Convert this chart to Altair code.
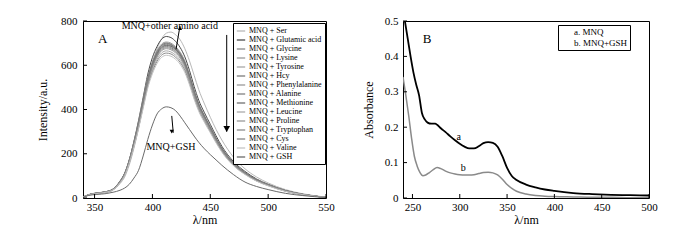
import altair as alt
import pandas as pd

# ---------------- Panel A: fluorescence spectra ----------------
wl_a = [340, 345, 352, 360, 366, 372, 376, 380, 384, 388, 392, 396, 400, 404, 408,
        412, 416, 420, 424, 428, 432, 436, 440, 445, 450, 455, 460, 470, 480, 490,
        500, 515, 530, 550]

names_a = ["MNQ + Ser", "MNQ + Glutamic acid", "MNQ + Glycine", "MNQ + Lysine",
           "MNQ + Tyrosine", "MNQ + Hcy", "MNQ + Phenylalanine", "MNQ + Alanine",
           "MNQ + Methionine", "MNQ + Leucine", "MNQ + Proline", "MNQ + Tryptophan",
           "MNQ + Cys", "MNQ + Valine", "MNQ + GSH"]

colors_a = ["#b8b8b8", "#4a4a4a", "#8a8a8a", "#9a9a9a", "#a8a8a8", "#7a7a7a", "#999999",
            "#808080", "#707070", "#aaaaaa", "#999999", "#8c8c8c", "#858585", "#c4c4c4",
            "#6a6a6a"]

ser = [4, 14, 20, 26, 36, 65, 95, 150, 225, 315, 420, 525, 610, 675, 720, 745, 750, 738, 715, 675, 620, 555, 490, 425, 365, 310, 262, 185, 132, 95, 68, 38, 19, 4]
glutamic = [4, 15, 22, 28, 40, 74, 110, 172, 255, 350, 455, 560, 635, 685, 718, 730, 725, 708, 680, 638, 577, 505, 442, 385, 333, 281, 234, 165, 120, 86, 62, 34, 17, 3]
glycine = [4, 15, 22, 28, 40, 75, 110, 170, 250, 340, 440, 540, 610, 660, 690, 700, 695, 680, 655, 615, 555, 485, 425, 370, 320, 270, 225, 158, 115, 82, 60, 33, 16, 3]
lysine = [4, 16, 23, 29, 41, 77, 113, 174, 255, 346, 446, 546, 616, 666, 696, 705, 700, 684, 659, 619, 559, 489, 428, 373, 322, 272, 227, 159, 116, 83, 60, 33, 16, 3]
tyrosine = [4, 15, 22, 28, 40, 74, 108, 167, 246, 335, 434, 532, 601, 651, 680, 690, 685, 670, 645, 606, 547, 478, 419, 365, 315, 266, 222, 156, 113, 81, 59, 32, 16, 3]
hcy = [4, 15, 22, 28, 40, 75, 109, 169, 248, 338, 437, 536, 606, 655, 685, 695, 690, 675, 650, 611, 551, 482, 422, 368, 318, 268, 224, 157, 114, 82, 60, 33, 16, 3]
phenylalanine = [4, 14, 21, 27, 39, 73, 107, 165, 242, 330, 427, 524, 593, 641, 670, 680, 675, 661, 637, 598, 540, 472, 414, 360, 311, 263, 219, 154, 112, 80, 58, 32, 16, 3]
alanine = [4, 15, 23, 29, 41, 76, 112, 172, 252, 342, 442, 541, 611, 661, 690, 700, 694, 678, 652, 612, 552, 482, 422, 368, 318, 268, 223, 157, 114, 82, 60, 33, 16, 3]
methionine = [4, 15, 22, 28, 40, 74, 109, 168, 247, 336, 435, 533, 602, 651, 680, 690, 686, 671, 647, 608, 549, 480, 421, 367, 317, 268, 223, 157, 114, 82, 60, 33, 16, 3]
leucine = [4, 14, 21, 27, 38, 71, 104, 161, 237, 323, 418, 513, 580, 627, 656, 665, 660, 646, 622, 584, 527, 461, 404, 352, 304, 257, 214, 150, 109, 78, 57, 31, 15, 3]
proline = [4, 14, 21, 27, 39, 72, 106, 164, 241, 328, 424, 520, 589, 637, 666, 675, 670, 656, 632, 593, 536, 468, 410, 357, 309, 261, 217, 153, 111, 79, 58, 32, 15, 3]
tryptophan = [4, 14, 21, 26, 37, 70, 103, 159, 234, 318, 412, 505, 571, 618, 646, 655, 651, 637, 613, 576, 520, 454, 398, 346, 300, 253, 211, 148, 108, 77, 56, 31, 15, 3]
cys = [4, 15, 22, 28, 39, 73, 108, 166, 244, 333, 430, 528, 597, 646, 675, 685, 680, 665, 641, 602, 543, 475, 416, 362, 313, 265, 220, 155, 113, 80, 59, 32, 16, 3]
valine = [4, 14, 20, 26, 37, 69, 101, 157, 230, 313, 405, 497, 562, 608, 636, 645, 641, 627, 604, 567, 512, 447, 392, 341, 295, 249, 207, 146, 106, 76, 55, 30, 15, 3]
gsh = [3, 12, 16, 20, 26, 35, 45, 62, 90, 125, 190, 265, 330, 380, 403, 412, 408, 395, 370, 340, 310, 280, 252, 222, 196, 172, 148, 106, 72, 52, 38, 21, 11, 2]

series_a = [ser, glutamic, glycine, lysine, tyrosine, hcy, phenylalanine, alanine,
            methionine, leucine, proline, tryptophan, cys, valine, gsh]

ticks_ax = [350, 400, 450, 500, 550]
ticks_ay = [0, 200, 400, 600, 800]

# ---------------- Panel B: absorbance ----------------
wl_b_a = [242, 245, 248, 251, 254, 257, 260, 263, 266, 270, 274, 276, 280, 285, 290, 295,
          300, 305, 310, 315, 320, 325, 330, 335, 340, 345, 350, 355, 360, 370, 380, 390,
          400, 420, 440, 460, 480, 500]
abs_mnq = [0.50, 0.45, 0.40, 0.355, 0.32, 0.29, 0.24, 0.222, 0.213, 0.21, 0.21, 0.207,
           0.197, 0.186, 0.174, 0.163, 0.153, 0.145, 0.140, 0.140, 0.146, 0.155, 0.158,
           0.156, 0.145, 0.118, 0.085, 0.062, 0.051, 0.038, 0.030, 0.024, 0.020, 0.014,
           0.011, 0.009, 0.008, 0.007]
wl_b_b = [240, 243, 246, 249, 252, 255, 258, 261, 264, 268, 272, 276, 280, 285, 290, 295,
          300, 305, 310, 315, 320, 325, 330, 335, 340, 345, 350, 355, 360, 370, 380, 390,
          400, 420, 440, 460, 480, 500]
abs_gsh = [0.342, 0.29, 0.233, 0.17, 0.118, 0.09, 0.072, 0.063, 0.065, 0.072, 0.08, 0.086,
           0.083, 0.076, 0.071, 0.068, 0.066, 0.065, 0.065, 0.066, 0.069, 0.072, 0.073,
           0.071, 0.065, 0.053, 0.038, 0.027, 0.019, 0.011, 0.007, 0.005, 0.004, 0.003,
           0.002, 0.002, 0.001, 0.001]
names_b = ["a. MNQ", "b. MNQ+GSH"]
colors_b = ["#000000", "#8a8a8a"]
ticks_bx = [250, 300, 350, 400, 450, 500]
ticks_by = [0, 0.1, 0.2, 0.3, 0.4, 0.5]

FONT = "Liberation Serif"
W_A, W_B, H = 243, 246, 177
TICK = 4

# ---------- build tables ----------
rows = []
for nm, vals in zip(names_a, series_a):
    for w, v in zip(wl_a, vals):
        rows.append({"wl": w, "val": v, "name": nm})
dfA = pd.DataFrame(rows)

rowsB = [{"wl": w, "val": v, "name": names_b[0]} for w, v in zip(wl_b_a, abs_mnq)]
rowsB += [{"wl": w, "val": v, "name": names_b[1]} for w, v in zip(wl_b_b, abs_gsh)]
dfB = pd.DataFrame(rowsB)

def axis(title, values, fmt=None, pad=6, tpad=6):
    kw = dict(title=title, values=values, ticks=False, tickSize=0, domain=False,
              grid=False, labelFont=FONT, labelFontSize=11, labelColor="black",
              titleFont=FONT, titleFontSize=12, titleFontWeight="normal",
              titleColor="black", labelPadding=pad, titlePadding=tpad,
              labelOverlap=False, labelFlush=False)
    if fmt:
        kw["format"] = fmt
    return alt.Axis(**kw)

axAx = axis("λ/nm", ticks_ax, pad=3, tpad=2)
axAy = axis("Intensity/a.u.", ticks_ay, pad=6, tpad=11)
axBx = axis("λ/nm", ticks_bx, pad=3, tpad=2)
axBy = axis("Absorbance", ticks_by, fmt="~g", pad=5, tpad=9)

# ---------- panel A ----------
xA = alt.Scale(domain=[340, 550], nice=False, zero=False)
yA = alt.Scale(domain=[0, 800], nice=False)

linesA = alt.Chart(dfA).mark_line(strokeWidth=1, interpolate="monotone", clip=True).encode(
    x=alt.X("wl:Q", scale=xA, axis=axAx),
    y=alt.Y("val:Q", scale=yA, axis=axAy),
    color=alt.Color("name:N", sort=names_a,
                    scale=alt.Scale(domain=names_a, range=colors_a),
                    legend=alt.Legend(orient="none", legendX=150, legendY=2, title=None,
                                      symbolType="stroke", symbolSize=70,
                                      symbolStrokeWidth=1.3, labelFont=FONT,
                                      labelFontSize=8, labelColor="black",
                                      labelLimit=200, rowPadding=-0.5, padding=3,
                                      strokeColor="black", fillColor="white",
                                      labelOffset=3)),
)

tickxA = alt.Chart(pd.DataFrame({"t": ticks_ax})).mark_rule(color="black").encode(
    x=alt.X("t:Q", scale=xA, axis=axAx), y=alt.value(H), y2=alt.value(H - TICK))
tickyA = alt.Chart(pd.DataFrame({"t": ticks_ay})).mark_rule(color="black").encode(
    y=alt.Y("t:Q", scale=yA, axis=axAy), x=alt.value(0), x2=alt.value(TICK))

textA = pd.DataFrame({
    "wl": [357, 415, 416],
    "val": [717, 779, 232],
    "label": ["A", "MNQ+other amino acid", "MNQ+GSH"],
    "size": [13, 10, 10],
})
labelsA = alt.Chart(textA).mark_text(font=FONT, color="black").encode(
    x=alt.X("wl:Q", scale=xA, axis=axAx), y=alt.Y("val:Q", scale=yA, axis=axAy),
    text="label:N", size=alt.Size("size:Q", scale=None, legend=None))

arrowsA = pd.DataFrame({
    "x1": [420.4, 416.7, 464.2],
    "y1": [672, 371, 737],
    "x2": [423.8, 418.0, 464.2],
    "y2": [777, 295, 300],
})
arrowLinesA = alt.Chart(arrowsA).mark_rule(color="black", strokeWidth=1).encode(
    x=alt.X("x1:Q", scale=xA, axis=axAx), y=alt.Y("y1:Q", scale=yA, axis=axAy),
    x2="x2:Q", y2="y2:Q")

headsA = pd.DataFrame({
    "x": [423.8, 416.7, 464.2],
    "y": [768, 300, 312],
    "shape": ["triangle-up", "triangle-down", "triangle-down"],
    "sz": [18, 18, 45],
})
arrowHeadsA = alt.Chart(headsA).mark_point(filled=True, color="black", opacity=1).encode(
    x=alt.X("x:Q", scale=xA, axis=axAx), y=alt.Y("y:Q", scale=yA, axis=axAy),
    shape=alt.Shape("shape:N", scale=None, legend=None),
    size=alt.Size("sz:Q", scale=None, legend=None))

panelA = alt.layer(linesA, tickxA, tickyA, arrowLinesA, arrowHeadsA, labelsA).properties(
    width=W_A, height=H)

# ---------- panel B ----------
xB = alt.Scale(domain=[240, 500], nice=False, zero=False)
yB = alt.Scale(domain=[0, 0.5], nice=False)

linesB = alt.Chart(dfB).mark_line(interpolate="monotone", clip=True).encode(
    x=alt.X("wl:Q", scale=xB, axis=axBx),
    y=alt.Y("val:Q", scale=yB, axis=axBy),
    color=alt.Color("name:N", sort=names_b,
                    scale=alt.Scale(domain=names_b, range=colors_b),
                    legend=alt.Legend(orient="none", legendX=155, legendY=4, title=None,
                                      symbolType="stroke", symbolSize=64,
                                      symbolOpacity=0, labelFont=FONT,
                                      labelFontSize=9, labelColor="black",
                                      rowPadding=1, padding=2, labelOffset=4,
                                      strokeColor="black", fillColor="white")),
    strokeWidth=alt.StrokeWidth("name:N", scale=alt.Scale(domain=names_b, range=[1.8, 1.5]),
                                legend=None),
)

tickxB = alt.Chart(pd.DataFrame({"t": ticks_bx})).mark_rule(color="black").encode(
    x=alt.X("t:Q", scale=xB, axis=axBx), y=alt.value(H), y2=alt.value(H - TICK))
tickyB = alt.Chart(pd.DataFrame({"t": ticks_by})).mark_rule(color="black").encode(
    y=alt.Y("t:Q", scale=yB, axis=axBy), x=alt.value(0), x2=alt.value(TICK))

textB = pd.DataFrame({
    "wl": [265.4, 298.9, 303.7],
    "val": [0.45, 0.173, 0.086],
    "label": ["B", "a", "b"],
    "size": [13, 10, 10],
})
labelsB = alt.Chart(textB).mark_text(font=FONT, color="black").encode(
    x=alt.X("wl:Q", scale=xB, axis=axBx), y=alt.Y("val:Q", scale=yB, axis=axBy),
    text="label:N", size=alt.Size("size:Q", scale=None, legend=None))

panelB = alt.layer(linesB, tickxB, tickyB, labelsB).properties(width=W_B, height=H)

chart = alt.hconcat(panelA, panelB, spacing=26).resolve_scale(
    color="independent", x="independent", y="independent", strokeWidth="independent",
    size="independent", shape="independent"
).configure_view(stroke="black", strokeWidth=1).properties(
    padding={"left": 36, "top": 14, "right": 0, "bottom": 0},
    background="white",
)

chart.save("out.html", embed_options={"renderer": "svg", "actions": False})
